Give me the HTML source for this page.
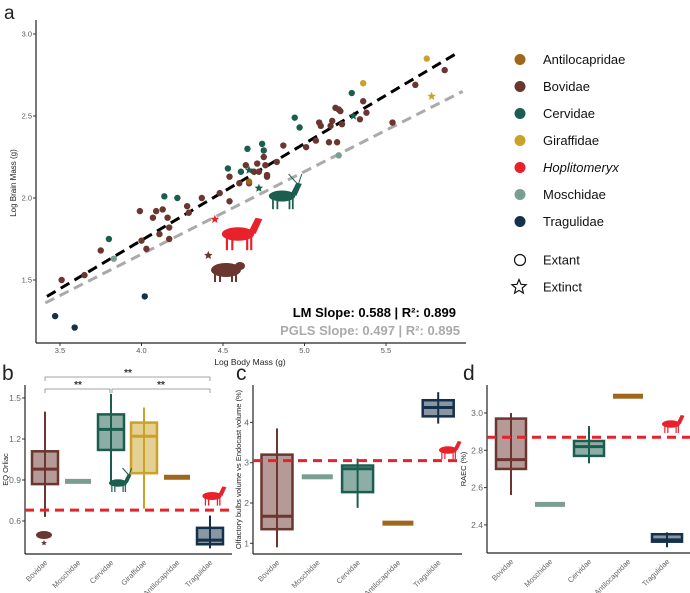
<!DOCTYPE html>
<html><head><meta charset="utf-8">
<style>
html,body{margin:0;padding:0;background:#fff;}
svg{display:block;font-family:"Liberation Sans",sans-serif;}
</style></head>
<body>
<svg id="fig" width="690" height="593" viewBox="0 0 690 593">
  <text x="4" y="19" font-size="19" fill="#222">a</text>
  <text x="2" y="380" font-size="21" fill="#222">b</text>
  <text x="236" y="380" font-size="21" fill="#222">c</text>
  <text x="463" y="380" font-size="21" fill="#222">d</text>
  <g id="pa"></g>
  <g id="leg"></g>
  <g id="pb"></g>
  <g id="pc"></g>
  <g id="pd"></g>
</svg>
<script>
const NS="http://www.w3.org/2000/svg";
const COL={Antilocapridae:"#a0661c",Bovidae:"#6b3530",Cervidae:"#1b5e50",Giraffidae:"#c9a227",Hoplitomeryx:"#e8212b",Moschidae:"#7a9e92",Tragulidae:"#14304a"};
// ---- panel a data ----
const xTicksA=[3.5,4.0,4.5,5.0,5.5];
const yTicksA=[1.5,2.0,2.5,3.0];
const bovX=[3.51,3.65,3.75,3.99,4.00,4.03,4.07,4.09,4.11,4.13,4.16,4.17,4.17,4.28,4.29,4.37,4.48,4.54,4.54,4.60,4.64,4.66,4.69,4.71,4.72,4.75,4.76,4.77,4.77,4.83,4.87,5.01,5.07,5.09,5.10,5.15,5.16,5.17,5.19,5.20,5.21,5.22,5.23,5.34,5.36,5.38,5.54,5.68,5.86];
const bovY=[1.50,1.53,1.68,1.92,1.74,1.69,1.88,1.92,1.78,1.93,1.88,1.82,1.75,1.95,1.91,2.00,2.03,2.13,1.98,2.09,2.20,2.09,2.16,2.21,2.16,2.25,2.20,2.13,2.14,2.22,2.32,2.31,2.35,2.46,2.44,2.34,2.44,2.47,2.55,2.34,2.54,2.53,2.45,2.48,2.59,2.52,2.46,2.69,2.78];
const cerX=[3.80,4.14,4.22,4.53,4.61,4.65,4.74,4.75,4.94,4.97,5.29];
const cerY=[1.75,2.01,2.00,2.18,2.16,2.30,2.33,2.29,2.49,2.43,2.64];
const mosX=[3.83,5.21], mosY=[1.63,2.26];
const girX=[5.75,5.36], girY=[2.85,2.70];
const antX=[4.66], antY=[2.10];
const traX=[3.47,3.59,4.02], traY=[1.28,1.21,1.40];
const starFam=["Cervidae","Cervidae","Cervidae","Giraffidae","Hoplitomeryx","Bovidae"];
const starX=[4.66,4.72,5.30,5.78,4.45,4.41];
const starY=[2.17,2.06,2.50,2.62,1.87,1.65];
const lmLine=[[3.42,1.40],[5.93,2.88]];
const pglsLine=[[3.41,1.36],[5.97,2.65]];
const legendNames=["Antilocapridae","Bovidae","Cervidae","Giraffidae","Hoplitomeryx","Moschidae","Tragulidae"];

function el(tag,attrs,parent){const e=document.createElementNS(NS,tag);for(const k in attrs)e.setAttribute(k,attrs[k]);parent.appendChild(e);return e;}
function starPath(cx,cy,r){let d="";for(let i=0;i<10;i++){const a=-Math.PI/2+i*Math.PI/5;const rr=i%2?r*0.45:r;d+=(i?"L":"M")+(cx+rr*Math.cos(a)).toFixed(1)+","+(cy+rr*Math.sin(a)).toFixed(1);}return d+"Z";}

const pa=document.getElementById("pa");
const xA=v=>60+(v-3.5)*163, yA=v=>198-(v-2)*164;
let ax=el("line",{x1:36,y1:20,x2:36,y2:343,stroke:"#222","stroke-width":1.2},pa);

ax=el("line",{x1:36,y1:343,x2:466,y2:343,stroke:"#222","stroke-width":1.2},pa);

xTicksA.forEach(v=>{el("line",{x1:xA(v),x2:xA(v),y1:343,y2:346,stroke:"#333"},pa);
 const t=el("text",{x:xA(v),y:353,"font-size":7.5,"text-anchor":"middle",fill:"#555"},pa);t.textContent=v.toFixed(1);
 });
yTicksA.forEach(v=>{el("line",{x1:33,x2:36,y1:yA(v),y2:yA(v),stroke:"#333"},pa);
 const t=el("text",{x:32,y:yA(v)+2.5,"font-size":7.5,"text-anchor":"end",fill:"#555"},pa);t.textContent=v.toFixed(1);
 });
let tt=el("text",{x:250,y:365,"font-size":8.5,"text-anchor":"middle",fill:"#222"},pa);tt.textContent="Log Body Mass (g)";

tt=el("text",{x:0,y:0,"font-size":8,"text-anchor":"middle",fill:"#222",transform:"translate(16,183) rotate(-90)"},pa);tt.textContent="Log Brain Mass (g)";

let ln=el("line",{x1:xA(pglsLine[0][0]),y1:yA(pglsLine[0][1]),x2:xA(pglsLine[1][0]),y2:yA(pglsLine[1][1]),stroke:"#aaa","stroke-width":3,"stroke-dasharray":"10,6"},pa);

ln=el("line",{x1:xA(lmLine[0][0]),y1:yA(lmLine[0][1]),x2:xA(lmLine[1][0]),y2:yA(lmLine[1][1]),stroke:"#000","stroke-width":3,"stroke-dasharray":"10,6"},pa);

function pts(xs,ys,fam){xs.forEach((v,i)=>{const c=el("circle",{cx:xA(v),cy:yA(ys[i]),r:3.2,fill:COL[fam]},pa);
 });}
pts(bovX,bovY,"Bovidae");pts(cerX,cerY,"Cervidae");pts(mosX,mosY,"Moschidae");pts(girX,girY,"Giraffidae");pts(antX,antY,"Antilocapridae");pts(traX,traY,"Tragulidae");
starX.forEach((v,i)=>{const s=el("path",{d:starPath(xA(v),yA(starY[i]),4.5),fill:COL[starFam[i]]},pa);
 });
// silhouettes
function deer(g,x,y,s,c,antler){
 el("ellipse",{cx:x,cy:y,rx:12*s,ry:5*s,fill:c},g);
 el("path",{d:`M${x+8*s},${y-2*s} L${x+13*s},${y-12*s} L${x+18*s},${y-11*s} L${x+13*s},${y}`,fill:c},g);
 [-9,-5,6,9].forEach(o=>el("rect",{x:x+o*s,y:y+2*s,width:1.6*s,height:10*s,fill:c},g));
 if(antler){el("path",{d:`M${x+14*s},${y-11*s} L${x+6*s},${y-20*s} M${x+15*s},${y-11*s} L${x+18*s},${y-20*s}`,stroke:c,"stroke-width":1},g);}
}
let sg=el("g",{},pa);deer(sg,282,196,1.1,COL.Cervidae,true);
sg=el("g",{},pa);deer(sg,238,234,1.35,COL.Hoplitomeryx,false);
sg=el("g",{},pa);
el("ellipse",{cx:226,cy:270,rx:15,ry:7,fill:COL.Bovidae},sg);el("ellipse",{cx:240,cy:266,rx:5,ry:4,fill:COL.Bovidae},sg);
[214,219,231,235].forEach(x=>el("rect",{x:x,y:273,width:2,height:9,fill:COL.Bovidae},sg));
tt=el("text",{x:456,y:317,"font-size":13,"font-weight":"bold","text-anchor":"end",fill:"#000"},pa);tt.textContent="LM Slope: 0.588 | R²: 0.899";

tt=el("text",{x:460,y:335,"font-size":13,"font-weight":"bold","text-anchor":"end",fill:"#aaa"},pa);tt.textContent="PGLS Slope: 0.497 | R²: 0.895";

// legend
const leg=document.getElementById("leg");
legendNames.forEach((n,i)=>{const y=59.5+i*27;
 const c=el("circle",{cx:520,cy:y,r:5.5,fill:COL[n]},leg);
 const t=el("text",{x:543,y:y+4.5,"font-size":13,fill:"#111","font-style":n==="Hoplitomeryx"?"italic":"normal"},leg);t.textContent=n;
 });
let c2=el("circle",{cx:520,cy:260,r:5.5,fill:"none",stroke:"#111","stroke-width":1.2},leg);
tt=el("text",{x:543,y:264.5,"font-size":13,fill:"#111"},leg);tt.textContent="Extant";
c2=el("path",{d:starPath(519,287,7.5),fill:"none",stroke:"#111","stroke-width":1.2},leg);
tt=el("text",{x:543,y:291.5,"font-size":13,fill:"#111"},leg);tt.textContent="Extinct";

// ---- box panels data ----
const bCats=["Bovidae","Moschidae","Cervidae","Giraffidae","Antilocapridae","Tragulidae"];
const bMin=[0.63,0.89,0.88,0.69,0.92,0.40];
const bQ1=[0.87,0.89,1.12,0.95,0.92,0.43];
const bMed=[0.98,0.89,1.27,1.22,0.92,0.46];
const bQ3=[1.11,0.89,1.38,1.32,0.92,0.55];
const bMax=[1.40,0.89,1.53,1.43,0.92,0.64];
const bTicks=[0.6,0.9,1.2,1.5];
const bRef=0.68;
const cCats=["Bovidae","Moschidae","Cervidae","Antilocapridae","Tragulidae"];
const cMin=[0.9,2.65,1.88,1.5,3.97];
const cQ1=[1.35,2.65,2.27,1.5,4.15];
const cMed=[1.67,2.65,2.85,1.5,4.37];
const cQ3=[3.2,2.65,2.93,1.5,4.55];
const cMax=[3.85,2.65,3.1,1.5,4.75];
const cTicks=[1,2,3,4];
const cRef=3.05;
const dCats=["Bovidae","Moschidae","Cervidae","Antilocapridae","Tragulidae"];
const dMin=[2.56,2.51,2.73,3.09,2.28];
const dQ1=[2.70,2.51,2.77,3.09,2.31];
const dMed=[2.75,2.51,2.82,3.09,2.32];
const dQ3=[2.97,2.51,2.85,3.09,2.35];
const dMax=[3.00,2.51,2.93,3.09,2.36];
const dTicks=[2.4,2.6,2.8,3.0];
const dRef=2.87;

function boxPanel(g,o){
 const {x0,x1,yTop,yBot,cx,ys,cats,mn,q1,md,q3,mx,ticks,ref,title,titleX,fmt,bw}=o;
 let a=el("line",{x1:x0,y1:yTop,x2:x0,y2:yBot,stroke:"#222","stroke-width":1.2},g);
 a=el("line",{x1:x0,y1:yBot,x2:x1,y2:yBot,stroke:"#222","stroke-width":1.2},g);
 ticks.forEach(v=>{el("line",{x1:x0-3,x2:x0,y1:ys(v),y2:ys(v),stroke:"#333"},g);
  const t=el("text",{x:x0-4,y:ys(v)+3,"font-size":8.5,"text-anchor":"end",fill:"#666"},g);t.textContent=fmt(v);
  });
 const t=el("text",{x:0,y:0,"font-size":7.5,"text-anchor":"middle",fill:"#222",transform:`translate(${titleX},${(yTop+yBot)/2}) rotate(-90)`},g);t.textContent=title;
 
 cats.forEach((cat,i)=>{const x=cx(i),c=COL[cat];
  const lab=el("text",{x:0,y:0,"font-size":7.5,"text-anchor":"end",fill:"#666",transform:`translate(${x+3},${yBot+9}) rotate(-45)`},g);lab.textContent=cat;
  
  if(mn[i]===mx[i]){const r=el("rect",{x:x-bw/2,y:ys(md[i])-2.5,width:bw,height:5,fill:c},g);
   return;}
  const w=el("line",{x1:x,x2:x,y1:ys(mx[i]),y2:ys(mn[i]),stroke:c,"stroke-width":2},g);
  const r=el("rect",{x:x-bw/2,y:ys(q3[i]),width:bw,height:ys(q1[i])-ys(q3[i]),fill:c,"fill-opacity":0.5,stroke:c,"stroke-width":2.5},g);
  
  const m=el("line",{x1:x-bw/2,x2:x+bw/2,y1:ys(md[i]),y2:ys(md[i]),stroke:c,"stroke-width":3},g);
 });
 const rl=el("line",{x1:x0,x2:x1,y1:ys(ref),y2:ys(ref),stroke:"#e8212b","stroke-width":3,"stroke-dasharray":"9,6"},g);
 
}
const ysB=v=>480-(v-0.9)*136.7;
const pb=document.getElementById("pb");
boxPanel(pb,{x0:25,x1:232,yTop:385,yBot:554,cx:i=>45+i*33,ys:ysB,cats:bCats,mn:bMin,q1:bQ1,md:bMed,q3:bQ3,mx:bMax,ticks:bTicks,ref:bRef,title:"EQ Orliac",titleX:8,fmt:v=>v.toFixed(1),bw:26});
// significance brackets
[[45,210,377],[45,110,389],[112,210,389]].forEach(b=>{const p=el("path",{d:`M${b[0]},${b[2]+4}V${b[2]}H${b[1]}V${b[2]+4}`,fill:"none",stroke:"#888","stroke-width":0.8},pb);
 });
[[128,376],[78,388],[161,388]].forEach(s=>{const t=el("text",{x:s[0],y:s[1],"font-size":10,"font-weight":"bold","text-anchor":"middle",fill:"#333"},pb);t.textContent="**";
 });
sg=el("g",{},pb);deer(sg,118,483,0.75,COL.Cervidae,true);
sg=el("g",{},pb);deer(sg,212,496,0.8,COL.Hoplitomeryx,false);
sg=el("g",{},pb);
el("ellipse",{cx:44,cy:535,rx:8,ry:4,fill:COL.Bovidae},pb);el("path",{d:starPath(44,543,3),fill:COL.Bovidae},pb);

const ysC=v=>543.3-(v-1)*40.3;
const pc=document.getElementById("pc");
boxPanel(pc,{x0:253,x1:462,yTop:385,yBot:554,cx:i=>277+i*40.3,ys:ysC,cats:cCats,mn:cMin,q1:cQ1,md:cMed,q3:cQ3,mx:cMax,ticks:cTicks,ref:cRef,title:"Olfactory bulbs volume vs Endocast volume (%)",titleX:241,fmt:v=>String(v),bw:31});
sg=el("g",{},pc);deer(sg,448,450,0.75,COL.Hoplitomeryx,false);

const ysD=v=>450.3-(v-2.8)*186.5;
const pd=document.getElementById("pd");
boxPanel(pd,{x0:487,x1:690,yTop:385,yBot:553,cx:i=>511+i*39,ys:ysD,cats:dCats,mn:dMin,q1:dQ1,md:dMed,q3:dQ3,mx:dMax,ticks:dTicks,ref:dRef,title:"RAEC (%)",titleX:466,fmt:v=>v.toFixed(1),bw:30});
sg=el("g",{},pd);deer(sg,671,424,0.75,COL.Hoplitomeryx,false);
</script>
</body></html>
